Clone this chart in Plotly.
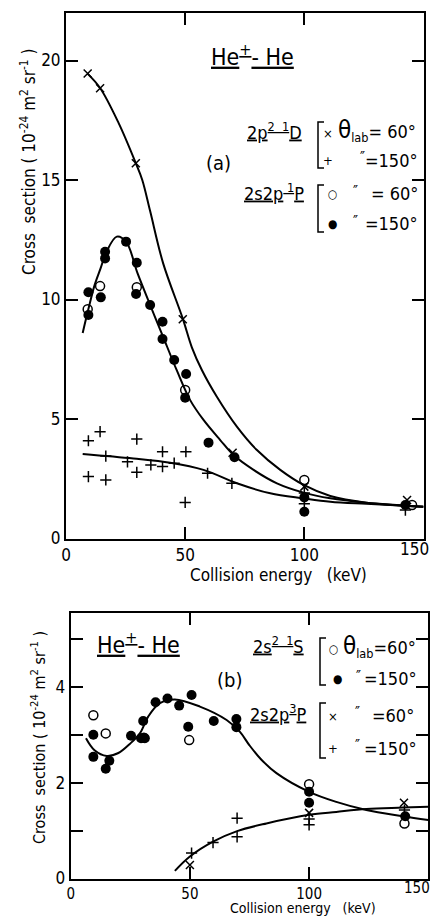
import plotly.graph_objects as go

W, H = 433, 918
FONT = "Liberation Sans Narrow, DejaVu Sans Condensed, Liberation Sans, sans-serif"

# ---------------- panel (a) data ----------------
a_D60_x = [9.1, 14.3, 29.3, 49.0, 69.9, 100.0, 143.1]
a_D60_y = [19.46, 18.84, 15.70, 9.17, 3.59, 2.17, 1.61]
a_D150_x = [9.4, 9.4, 14.3, 16.7, 16.7, 25.8, 29.7, 29.7, 35.6, 40.5, 40.5, 45.4,
            50.3, 50.0, 59.4, 69.6, 100.0, 100.0, 142.4]
a_D150_y = [4.09, 2.59, 4.47, 3.45, 2.45, 3.21, 4.16, 2.77, 3.08, 3.63, 3.01, 3.15,
            3.63, 1.51, 2.73, 2.31, 1.90, 1.45, 1.19]
a_P60_x = [9.1, 14.3, 29.7, 50.0, 100.0, 145.2]
a_P60_y = [9.59, 10.56, 10.51, 6.21, 2.45, 1.40]
a_P150_x = [9.4, 9.4, 14.6, 16.4, 16.4, 25.2, 29.7, 29.4, 35.3, 40.5, 40.5, 45.4,
            50.4, 50.0, 59.8, 70.7, 100.0, 100.0, 142.4]
a_P150_y = [9.35, 10.3, 10.09, 11.72, 12.0, 12.42, 11.54, 10.23, 9.77, 9.07, 8.35, 7.47,
            6.88, 5.89, 4.01, 3.40, 1.72, 1.12, 1.40]

a_fitD_x = [9, 14.3, 22, 29.3, 32, 35.3, 40.8, 49, 52.8, 57, 63.3, 71.7, 80.1, 89.9,
            99.7, 110.9, 126, 150]
a_fitD_y = [19.45, 18.85, 17.4, 15.7, 15.0, 13.7, 11.5, 9.2, 8.0, 7.05, 5.93, 4.68, 3.70,
            2.87, 2.24, 1.78, 1.5, 1.33]
a_fitP_x = [7, 9.4, 12, 14.5, 17, 21.3, 25.2, 30, 35.3, 40.5, 46.5, 52.1, 57.7, 64.7,
            70.3, 78.7, 88.5, 99.7, 110.9, 126, 150]
a_fitP_y = [8.6, 9.6, 10.6, 11.3, 12.0, 12.63, 12.42, 11.1, 9.77, 8.5, 7.03, 5.79, 4.96,
            4.12, 3.49, 2.87, 2.31, 1.92, 1.68, 1.5, 1.33]
a_fitD150_x = [7, 28.3, 43.7, 57.7, 71.7, 85.7, 99.7, 110.9, 126, 150]
a_fitD150_y = [3.54, 3.35, 3.17, 2.87, 2.31, 1.89, 1.68, 1.54, 1.45, 1.33]

# ---------------- panel (b) data ----------------
b_S60_x = [9.5, 14.7, 30.7, 49.7, 100.0, 140.0]
b_S60_y = [3.41, 3.03, 2.94, 2.89, 1.97, 1.15]
b_S150_x = [9.5, 9.5, 14.7, 16.2, 25.3, 29.5, 31.1, 30.4, 35.6, 40.6, 45.5, 50.7,
            49.3, 60.0, 69.5, 69.5, 100.0, 100.0, 140.3]
b_S150_y = [3.00, 2.54, 2.29, 2.46, 2.98, 2.93, 2.93, 3.29, 3.68, 3.76, 3.61, 3.83,
            3.17, 3.29, 3.33, 3.16, 1.81, 1.58, 1.30]
b_P60_x = [50.0, 100.0, 139.8]
b_P60_y = [0.28, 1.37, 1.58]
b_P150_x = [50.7, 59.7, 69.8, 69.8, 100.0, 100.0, 140.0]
b_P150_y = [0.53, 0.75, 1.26, 0.87, 1.24, 1.12, 1.43]

b_fitS_x = [6.4, 10, 15.1, 20, 24.8, 29, 32.5, 37.4, 43.7, 54.2, 65.4, 71, 75, 80,
            86.3, 100, 111.4, 124, 139.3, 150]
b_fitS_y = [2.93, 2.68, 2.56, 2.62, 2.81, 3.03, 3.38, 3.66, 3.74, 3.59, 3.31, 3.06,
            2.78, 2.48, 2.20, 1.81, 1.60, 1.43, 1.30, 1.22]
b_fitP_x = [43.7, 50, 59.7, 69.8, 82.1, 100, 111.4, 124, 139.3, 150]
b_fitP_y = [0.16, 0.46, 0.77, 0.99, 1.15, 1.33, 1.39, 1.45, 1.48, 1.50]

x_ticks = [0, 50, 100, 150]
x_text = ["0", "50", "100", " "]
a_y_ticks = [0, 5, 10, 15, 20]
b_y_ticks = [0, 1, 2, 3, 4, 5]
b_y_text = ["0", " ", "2", " ", "4", " "]

fig = go.Figure()


def line(x, y, xa, ya):
    fig.add_trace(go.Scatter(x=x, y=y, mode="lines", xaxis=xa, yaxis=ya,
                             line=dict(color="black", width=2, shape="spline", smoothing=1.0),
                             showlegend=False, hoverinfo="skip"))


def pts(x, y, xa, ya, symbol, size, lw=1.5):
    fig.add_trace(go.Scatter(x=x, y=y, mode="markers", xaxis=xa, yaxis=ya,
                             marker=dict(symbol=symbol, size=size, color="black",
                                         line=dict(color="black", width=lw)),
                             showlegend=False))


line(a_fitD_x, a_fitD_y, "x", "y")
line(a_fitP_x, a_fitP_y, "x", "y")
line(a_fitD150_x, a_fitD150_y, "x", "y")
pts(a_D60_x, a_D60_y, "x", "y", "x-thin", 8)
pts(a_D150_x, a_D150_y, "x", "y", "cross-thin", 8)
pts(a_P60_x, a_P60_y, "x", "y", "circle-open", 9)
pts(a_P150_x, a_P150_y, "x", "y", "circle", 10, 0)

line(b_fitS_x, b_fitS_y, "x2", "y2")
line(b_fitP_x, b_fitP_y, "x2", "y2")
pts(b_S60_x, b_S60_y, "x2", "y2", "circle-open", 9)
pts(b_S150_x, b_S150_y, "x2", "y2", "circle", 10, 0)
pts(b_P60_x, b_P60_y, "x2", "y2", "x-thin", 8)
pts(b_P150_x, b_P150_y, "x2", "y2", "cross-thin", 8)

axis_common = dict(showline=True, linecolor="black", linewidth=2, mirror="allticks",
                   ticks="inside", ticklen=12, tickwidth=1.5, tickcolor="black",
                   showgrid=False, zeroline=False, automargin=False)
tf17 = dict(family=FONT, size=17, color="black")
tf15 = dict(family=FONT, size=15, color="black")

fig.update_layout(
    width=W, height=H, margin=dict(l=0, r=0, t=0, b=0),
    paper_bgcolor="white", plot_bgcolor="white",
    font=dict(family=FONT, color="black"),
    xaxis=dict(domain=[66 / W, 423.5 / W], range=[0, 150], tickvals=x_ticks,
               ticktext=x_text, anchor="y", tickfont=tf17, **axis_common),
    yaxis=dict(domain=[1 - 538.5 / H, 1 - 12.7 / H], range=[0, 22], tickvals=a_y_ticks,
               anchor="x", tickfont=tf17, **axis_common),
    xaxis2=dict(domain=[70.7 / W, 428.3 / W], range=[0, 150], tickvals=x_ticks,
                ticktext=x_text, anchor="y2", tickfont=tf15, **axis_common),
    yaxis2=dict(domain=[1 - 878.5 / H, 1 - 612.7 / H], range=[0, 5.55], tickvals=b_y_ticks,
                ticktext=b_y_text, anchor="x2", tickfont=tf17, **axis_common),
)


def ann(text, px, py, size=18, xanchor="center", angle=0):
    fig.add_annotation(text=text, x=px / W, y=1 - py / H, xref="paper", yref="paper",
                       showarrow=False, xanchor=xanchor, yanchor="middle", textangle=angle,
                       borderpad=0,
                       font=dict(family=FONT, size=size, color="black"))


def bracket(x0, y0, y1):
    fig.add_shape(type="path", xref="paper", yref="paper",
                  path=f"M {(x0 + 6) / W},{1 - y0 / H} L {x0 / W},{1 - y0 / H} "
                       f"L {x0 / W},{1 - y1 / H} L {(x0 + 6) / W},{1 - y1 / H}",
                  line=dict(color="black", width=1.5))


THETA = "<span style='font-size:24px'>θ</span><sub>lab</sub>"

# tick label at the right edge (placed by hand so it is not hidden at the page edge)
ann("150", 414, 549, 17)
ann("150", 417, 888, 15)

# panel (a) texts
ann("<u>He<sup>+</sup>- He</u>", 252, 55, 23)
ann("(a)", 218, 163, 20)
ann("<u>2p<sup>2  1</sup>D</u>", 274, 131, 18)
bracket(318, 122, 168)
ann("×", 328, 134, 13)
ann(THETA + "= 60°", 337, 131, 18, xanchor="left")
ann("+", 328, 160, 13)
ann("″", 362, 158, 15)
ann("=150°", 419, 160, 18, xanchor="right")
ann("<u>2s2p<sup> 1</sup>P</u>", 274, 192, 18)
bracket(318, 185, 232)
ann("○", 332, 194, 12)
ann("″", 355, 192, 15)
ann("= 60°", 419, 193, 18, xanchor="right")
ann("●", 332, 224, 12)
ann("″", 355, 222, 15)
ann("=150°", 419, 224, 18, xanchor="right")

# panel (b) texts
ann("<u>He<sup>+</sup>- He</u>", 138, 643, 23)
ann("(b)", 230, 680, 20)
ann("<u>2s<sup>2  1</sup>S</u>", 278, 645, 18)
bracket(320, 638, 685)
ann("○", 333, 649, 12)
ann(THETA + "=60°", 342, 646, 18, xanchor="left")
ann("●", 337, 679, 12)
ann("″", 358, 677, 15)
ann("=150°", 418, 678, 18, xanchor="right")
ann("<u>2s2p<sup>3</sup>P</u>", 278, 713, 18)
bracket(320, 703, 758)
ann("×", 333, 716, 13)
ann("″", 357, 713, 15)
ann("=60°", 415, 715, 18, xanchor="right")
ann("+", 333, 748, 13)
ann("″", 357, 746, 15)
ann("=150°", 418, 748, 18, xanchor="right")

# axis titles
YT = "Cross  section ( 10<sup>-24</sup> m<sup>2</sup> sr<sup>-1</sup> )"
ann(YT, 28, 162, 17, angle=-90)
ann(YT, 38, 738, 16, angle=-90)
ann("Collision energy   (keV)", 278, 575, 17)
ann("Collision energy   (keV)", 303, 908, 14)

fig.write_html("out.html")
